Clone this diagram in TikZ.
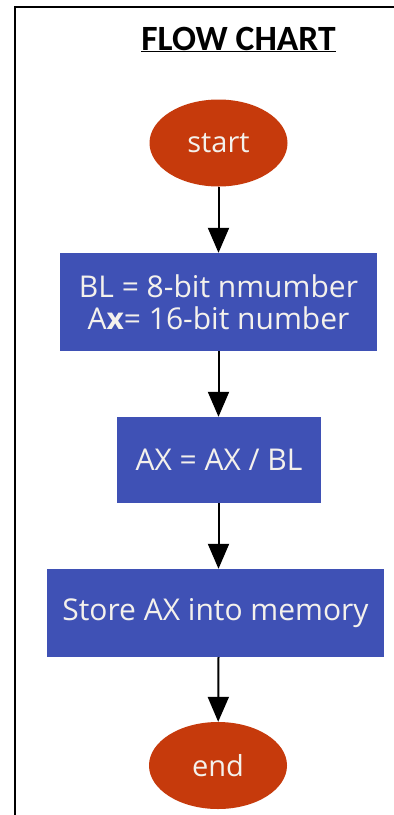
\documentclass[tikz,border=0pt]{standalone}
\usepackage{fontspec}
\setmainfont{Open Sans}
\newfontfamily\titlefont{Carlito}
\usetikzlibrary{arrows.meta,shapes.geometric}
\definecolor{termred}{HTML}{C63A0C}
\definecolor{procblue}{HTML}{3F51B5}
\definecolor{lighttext}{HTML}{F4F1EC}
\tikzset{
  terminal/.style={ellipse, fill=termred, draw=none, minimum width=138pt, minimum height=87pt,
    text=lighttext, font=\fontsize{29}{34}\selectfont, inner sep=0pt},
  process/.style={rectangle, fill=procblue, draw=none, text=lighttext,
    font=\fontsize{30}{32}\selectfont, align=center, inner sep=0pt},
  flow/.style={line width=2pt, -{Triangle[length=25pt,width=21pt]}}
}
\begin{document}
\begin{tikzpicture}[x=1pt,y=-1pt]
\useasboundingbox (0,0) rectangle (394,815);
\fill[white] (0,0) rectangle (394,815);
% page frame (open at right and bottom)
\draw[line width=2pt] (15,815) -- (15,7) -- (394,7);
% title
\node[font=\titlefont\bfseries\fontsize{35.5}{40}\selectfont, anchor=base] (title) at (238.5,50)
  {\underline{FLOW CHART}};
% flow chart nodes
\node[terminal] (start) at (218.5,143) {start};
\node[process, minimum width=317pt, minimum height=98pt] (load) at (218.5,302)
  {BL = 8-bit nmumber\\A{\bfseries x}= 16-bit number};
\node[process, minimum width=204pt, minimum height=86pt] (divide) at (219,460) {AX = AX / BL};
\node[process, minimum width=337pt, minimum height=88pt] (store) at (215.5,613) {Store AX into memory};
\node[terminal] (end) at (218,765.5) {end};
% connectors
\draw[flow] (start) -- (load);
\draw[flow] (load.south -| start) -- (divide.north -| start);
\draw[flow] (divide.south -| start) -- (store.north -| start);
\draw[flow] (store.south -| start) -- (end);
\end{tikzpicture}
\end{document}
